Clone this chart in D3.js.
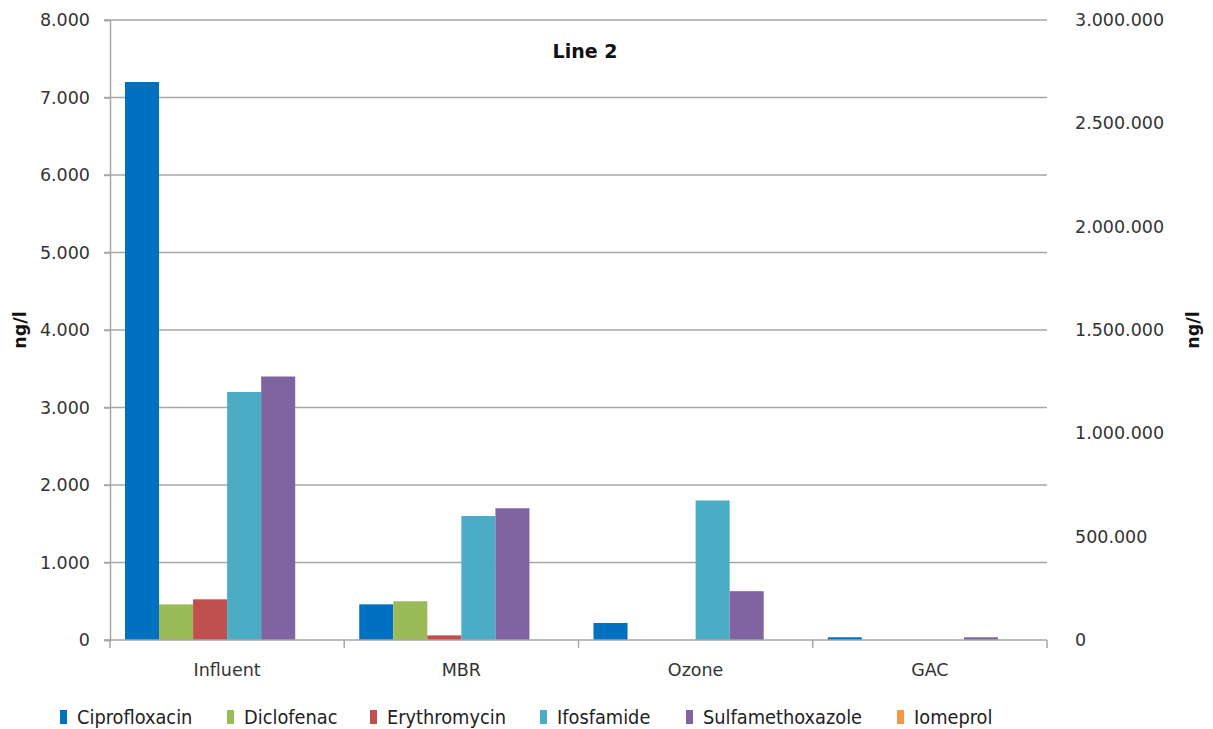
<!DOCTYPE html>
<html><head><meta charset="utf-8">
<script src="https://cdn.jsdelivr.net/npm/d3@7"></script>
<style>body{margin:0;background:#fff}</style>
</head><body>
<svg id="c" width="1213" height="729"></svg>
<script>
const categories = ["Influent", "MBR", "Ozone", "GAC"];
const seriesNames = ["Ciprofloxacin", "Diclofenac", "Erythromycin", "Ifosfamide", "Sulfamethoxazole", "Iomeprol"];
const colors = ["#0070c0", "#9bbb59", "#c0504d", "#4bacc6", "#8064a2", "#f79646"];
const ciprofloxacin = [7200, 460, 220, 35];
const diclofenac = [460, 500, 0, 0];
const erythromycin = [525, 60, 0, 0];
const ifosfamide = [3200, 1600, 1800, 0];
const sulfamethoxazole = [3400, 1700, 630, 35];
const iomeprol = [0, 0, 0, 0]; // secondary axis
const leftTicks = [0, 1000, 2000, 3000, 4000, 5000, 6000, 7000, 8000];
const rightTicks = [0, 500000, 1000000, 1500000, 2000000, 2500000, 3000000];
const seriesValues = [ciprofloxacin, diclofenac, erythromycin, ifosfamide, sulfamethoxazole, iomeprol];
const onRight = [false, false, false, false, false, true];

const svg = d3.select("#c");
const L = 110, R = 1047, T = 20, B = 640;
const fmt = v => d3.format(",")(v).replace(/,/g, ".");
const yL = d3.scaleLinear().domain([0, 8000]).range([B, T]);
const yR = d3.scaleLinear().domain([0, 3000000]).range([B, T]);
const x0 = d3.scaleBand().domain(categories).range([L, R]).paddingInner(0.128).paddingOuter(0.064);
const x1 = d3.scaleBand().domain(seriesNames).range([0, x0.bandwidth()]);
const FONT = "DejaVu Sans, Verdana, sans-serif";

// gridlines
svg.append("g").selectAll("line").data(leftTicks.filter(d => d > 0)).join("line")
  .attr("x1", L - 6).attr("x2", R).attr("y1", d => yL(d)).attr("y2", d => yL(d))
  .attr("stroke", "#a6a6a6").attr("stroke-width", 1.5);

// bars
seriesNames.forEach((s, i) => {
  const sc = onRight[i] ? yR : yL;
  svg.append("g").selectAll("rect").data(categories).join("rect")
    .attr("x", c => x0(c) + x1(s))
    .attr("width", x1.bandwidth())
    .attr("y", (c, j) => sc(seriesValues[i][j]))
    .attr("height", (c, j) => B - sc(seriesValues[i][j]))
    .attr("fill", colors[i]);
});

// left axis
const gl = svg.append("g").attr("transform", `translate(${L},0)`)
  .call(d3.axisLeft(yL).tickValues(leftTicks).tickFormat(fmt).tickSize(6).tickPadding(14));
gl.select(".domain").attr("stroke", "#a6a6a6").attr("stroke-width", 1.5);
gl.selectAll(".tick line").attr("stroke", "#a6a6a6").attr("stroke-width", 1.5);
gl.selectAll("text").attr("font-family", FONT).attr("font-size", 17.5).attr("fill", "#333");

// right axis
const gr = svg.append("g").attr("transform", `translate(${R},0)`)
  .call(d3.axisRight(yR).tickValues(rightTicks).tickFormat(fmt).tickSize(0).tickPadding(28));
gr.select(".domain").remove();
gr.selectAll("text").attr("font-family", FONT).attr("font-size", 17.5).attr("fill", "#333");

// bottom axis
const gb = svg.append("g").attr("transform", `translate(0,${B})`);
gb.append("line").attr("x1", L - 6).attr("x2", R).attr("y1", 0).attr("y2", 0)
  .attr("stroke", "#a6a6a6").attr("stroke-width", 1.5);
const bounds = categories.map(c => x0(c) - x0.step() * x0.paddingInner() / 2).concat([R]);
bounds[0] = L;
gb.selectAll("line.t").data(bounds).join("line").attr("class", "t")
  .attr("x1", d => d).attr("x2", d => d).attr("y1", 0).attr("y2", 8)
  .attr("stroke", "#a6a6a6").attr("stroke-width", 1.5);
gb.selectAll("text").data(categories).join("text")
  .attr("x", c => x0(c) + x0.bandwidth() / 2).attr("y", 36)
  .attr("text-anchor", "middle").attr("font-family", FONT).attr("font-size", 17.5).attr("fill", "#333")
  .text(c => c);

// titles
svg.append("text").attr("x", 585).attr("y", 58).attr("text-anchor", "middle")
  .attr("font-family", FONT).attr("font-weight", "bold").attr("font-size", 19).attr("fill", "#111").text("Line 2");
svg.append("text").attr("transform", "translate(26,330) rotate(-90)").attr("text-anchor", "middle")
  .attr("font-family", FONT).attr("font-weight", "bold").attr("font-size", 17.5).attr("fill", "#111").text("ng/l");
svg.append("text").attr("transform", "translate(1199,330) rotate(-90)").attr("text-anchor", "middle")
  .attr("font-family", FONT).attr("font-weight", "bold").attr("font-size", 17.5).attr("fill", "#111").text("ng/l");

// legend
const legX = [60, 227, 370, 540, 686, 897];
const lg = svg.append("g").selectAll("g").data(seriesNames).join("g")
  .attr("transform", (d, i) => `translate(${legX[i]},717)`);
lg.append("rect").attr("x", 0).attr("y", -7).attr("width", 7).attr("height", 14).attr("fill", (d, i) => colors[i]);
lg.append("text").attr("x", 17).attr("y", 7).attr("font-family", "DejaVu Sans Condensed, sans-serif")
  .attr("font-size", 19.8).attr("fill", "#222").text(d => d);
</script>
</body></html>
